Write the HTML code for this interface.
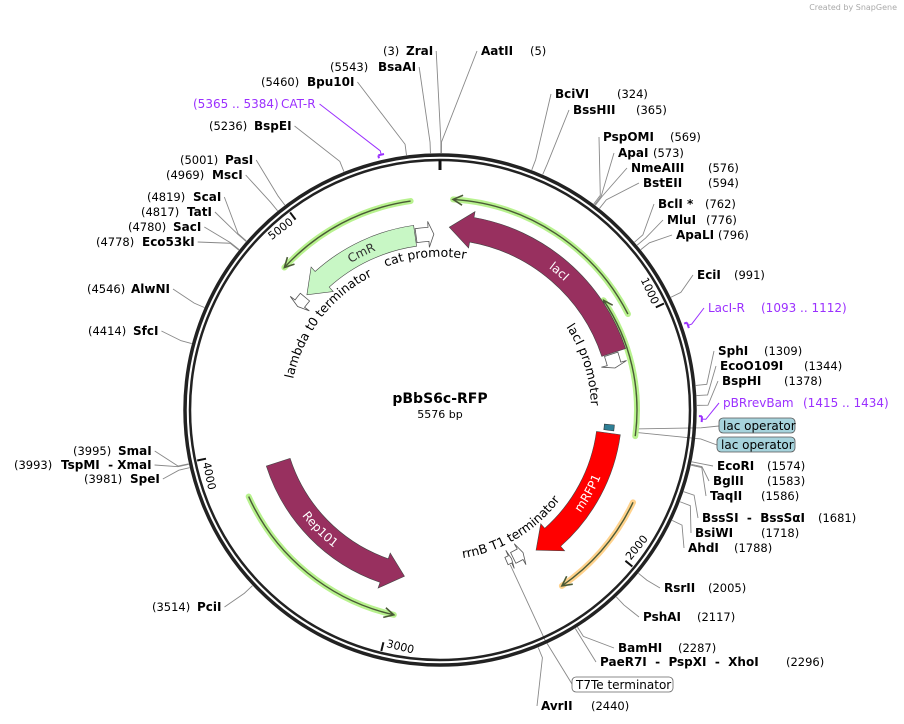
<!DOCTYPE html>
<html><head><meta charset="utf-8">
<style>
html,body{margin:0;padding:0;background:#fff;}
svg{display:block;font-family:"DejaVu Sans","Liberation Sans",sans-serif;}
text{white-space:pre;}
.nm{font-weight:bold;font-size:12px;fill:#000;}
.nu{font-size:11.5px;fill:#000;}
.pr{font-size:12px;fill:#9b30ff;}
</style></head>
<body>
<svg id="map" width="904" height="724" viewBox="0 0 904 724">
<defs id="defs"></defs>
<text x="897" y="10" text-anchor="end" font-size="8" fill="#aaa">Created by SnapGene</text>
<g id="lines"></g>
<g id="ring"></g>
<g id="feats"></g>
<g id="labels"></g>
<text x="440" y="403" text-anchor="middle" font-weight="bold" font-size="14">pBbS6c-RFP</text>
<text x="440" y="418" text-anchor="middle" font-size="11">5576 bp</text>
</svg>
<script>
const TOTAL = 5576;
const CX = 440, CY = 410;
const NS = 'http://www.w3.org/2000/svg';
const rightSites = [
 ['AatII','(5)',5,481,530,55],
 ['BciVI','(324)',324,555,617,98],
 ['BssHII','(365)',365,573,636,114],
 ['PspOMI','(569)',569,603,670,141],
 ['ApaI','(573)',573,618,653,157],
 ['NmeAIII','(576)',576,631,708,172],
 ['BstEII','(594)',594,643,708,187],
 ['BclI *','(762)',762,658,705,208],
 ['MluI','(776)',776,667,706,224],
 ['ApaLI','(796)',796,676,718,239],
 ['EciI','(991)',991,697,734,279],
 ['SphI','(1309)',1309,718,764,355],
 ['EcoO109I','(1344)',1344,720,804,370],
 ['BspHI','(1378)',1378,722,784,385],
 ['EcoRI','(1574)',1574,717,767,470],
 ['BglII','(1583)',1583,713,767,485],
 ['TaqII','(1586)',1586,710,761,500],
 ['BssSI  -  BssSαI','(1681)',1681,702,818,522],
 ['BsiWI','(1718)',1718,695,761,537],
 ['AhdI','(1788)',1788,688,734,552],
 ['RsrII','(2005)',2005,664,708,592],
 ['PshAI','(2117)',2117,643,697,621],
 ['BamHI','(2287)',2287,618,678,652],
 ['PaeR7I  -  PspXI  -  XhoI','(2296)',2296,600,786,666],
 ['AvrII','(2440)',2440,541,591,710]
];
const leftSites = [
 ['ZraI','(3)',3,406,383,55],
 ['BsaAI','(5543)',5543,378,330,71],
 ['Bpu10I','(5460)',5460,307,261,86],
 ['BspEI','(5236)',5236,254,209,130],
 ['PasI','(5001)',5001,225,180,164],
 ['MscI','(4969)',4969,212,166,179],
 ['ScaI','(4819)',4819,193,147,201],
 ['TatI','(4817)',4817,187,141,216],
 ['SacI','(4780)',4780,173,128,231],
 ['Eco53kI','(4778)',4778,142,96,246],
 ['AlwNI','(4546)',4546,131,87,293],
 ['SfcI','(4414)',4414,133,88,335],
 ['SmaI','(3995)',3995,118,73,455],
 ['TspMI  - XmaI','(3993)',3993,61,14,469],
 ['SpeI','(3981)',3981,130,84,483],
 ['PciI','(3514)',3514,197,152,611]
];
const primers = [
 ['CAT-R','(5365 .. 5384)',5375,281,193,108,'left'],
 ['LacI-R','(1093 .. 1112)',1102,708,761,312,'right'],
 ['pBRrevBam','(1415 .. 1434)',1425,723,803,407,'right']
];
const tickVals = [1000,2000,3000,4000,5000];
const features = [
 ['lacI',1110,45,183,25,'#98305f','lacI'],
 ['CmR',5450,4815,176,21,'#c8f7c5','CmR'],
 ['Rep101',3905,2975,170,25,'#98305f','Rep101'],
 ['mRFP1',1515,2255,170,24,'#ff0000','mRFP1']
];
const greenArcs = [
 [975,55,211,'#b8f28e'],
 [5452,4840,211,'#b8f28e'],
 [1512,870,197,'#b8f28e'],
 [1790,2250,214,'#ffd28c'],
 [3805,2985,210,'#b8f28e']
];

function ang(p){return p/TOTAL*2*Math.PI;}
function pt(p,r){const a=ang(p);return [CX+r*Math.sin(a),CY-r*Math.cos(a)];}
function el(tag,attrs,parent){const e=document.createElementNS(NS,tag);for(const k in attrs)e.setAttribute(k,attrs[k]);parent.appendChild(e);return e;}
function delta(a,b,dir){let d=(b-a)*dir;while(d<0)d+=TOTAL;return d;}
function arcD(p1,p2,r,dir){const d=delta(p1,p2,dir);const large=d>TOTAL/2?1:0;const e=pt(p2,r);
 return `A${r},${r} 0 ${large} ${dir>0?1:0} ${e[0].toFixed(1)},${e[1].toFixed(1)}`;}
const gL=document.getElementById('lines'),gR=document.getElementById('ring'),gF=document.getElementById('feats'),gT=document.getElementById('labels'),defs=document.getElementById('defs');
let pathId=0;
function curvedText(txt,center,r,size,fill,name,parent){
 const deg=((center%TOTAL)+TOTAL)%TOTAL/TOTAL*360;
 const top=(deg<90||deg>270);
 const span=1300;
 let d;
 if(top){d=`M${pt(center-span,r)} ${arcD(center-span,center+span,r,1)}`;}
 else{d=`M${pt(center+span,r)} ${arcD(center+span,center-span,r,-1)}`;}
 const id='tp'+(pathId++);
 el('path',{id:id,d:d,fill:'none'},defs);
 const t=el('text',{'font-size':size,fill:fill},parent);
 const tp=el('textPath',{href:'#'+id,startOffset:'50%','text-anchor':'middle'},t);
 tp.setAttributeNS('http://www.w3.org/1999/xlink','xlink:href','#'+id);
 tp.textContent=txt;
 
 
 return top;
}

let c1=el('circle',{cx:CX,cy:CY,r:255,fill:'none',stroke:'#222','stroke-width':3.5},gR);


let c2=el('circle',{cx:CX,cy:CY,r:250,fill:'none',stroke:'#222','stroke-width':2.5},gR);


let t0=el('line',{x1:CX,y1:CY-240,x2:CX,y2:CY-250,stroke:'#111','stroke-width':3},gR);


tickVals.forEach(v=>{
 const a=pt(v,248),b=pt(v,239);
 const tl=el('line',{x1:a[0],y1:a[1],x2:b[0],y2:b[1],stroke:'#111','stroke-width':2},gR);
 
 
 const deg=v/TOTAL*360;
 const top=(deg<90||deg>270);
 const rot=top?(deg>180?deg-360:deg):deg-180;
 const p=pt(v,240);
 const tx=el('text',{x:p[0],y:p[1],'font-size':11,'dominant-baseline':'middle','text-anchor':top?'end':'start',transform:`rotate(${rot.toFixed(1)} ${p[0].toFixed(1)} ${p[1].toFixed(1)})`},gR);
 tx.textContent=' '+v+' ';
 
 
});

greenArcs.forEach((g,i)=>{
 const [s,e,r,col]=g;const dir=delta(s,e,1)<TOTAL/2?1:-1;
 const p=pt(s,r);const d=`M${p[0]},${p[1]} `+arcD(s,e,r,dir);
 const h=el('path',{d:d,fill:'none',stroke:col,'stroke-width':6,'stroke-linecap':'round'},gF);
 
 
 const l=el('path',{d:d,fill:'none',stroke:'#4a5a36','stroke-width':1.4},gF);
 
 
 const hb=e-dir*40;const q1=pt(hb,r+5),q2=pt(hb,r-5),tip=pt(e,r);
 const ah=el('path',{d:`M${q1}L${tip}L${q2}`,fill:'none',stroke:'#4a5a36','stroke-width':1.6},gF);
 
 
});

function arrowShape(s,e,r,w){
 const dir=delta(s,e,1)<TOTAL/2?1:-1;
 const ro=r+w/2,ri=r-w/2;const hl=Math.min(110,delta(s,e,dir)*0.3);
 const hs=e-dir*hl;
 const A=pt(s,ro),C=pt(hs,ro+6),T=pt(e,r),D=pt(hs,ri-6),E=pt(hs,ri);
 return `M${A} ${arcD(s,hs,ro,dir)} L${C} L${T} L${D} L${E} ${arcD(hs,s,ri,-dir)} Z`;
}
features.forEach(f=>{
 const [n,s,e,r,w,col,lab]=f;
 const p=el('path',{d:arrowShape(s,e,r,w),fill:col,stroke:'#444','stroke-width':0.6},gF);
 
 
 const dir=delta(s,e,1)<TOTAL/2?1:-1;
 const mid=s+dir*delta(s,e,dir)*0.45;
 const deg=((mid%TOTAL)+TOTAL)%TOTAL/TOTAL*360;
 const top=(deg<90||deg>270);
 curvedText(lab,mid,top?r-4:r+4,12,n==='CmR'?'#333':'#fff','feature-label-'+n,gF);
});
const outlines=[['cat-promoter',5455,5545,176,14],['laci-promoter',1115,1185,180,14],['lambda-t0-terminator',4800,4740,176,12],['rrnb-t1-terminator',2380,2320,165,12],['t7te-terminator-mark',2420,2390,165,8]];
outlines.forEach(o=>{
 const p=el('path',{d:arrowShape(o[1],o[2],o[3],o[4]),fill:'#fff',stroke:'#555','stroke-width':0.8},gF);
 
 
});
const lo=el('path',{d:`M${pt(1470,175)} ${arcD(1470,1500,175,1)} L${pt(1500,165)} ${arcD(1500,1470,165,-1)}Z`,fill:'#2e7f96',stroke:'#333','stroke-width':0.6},gF);



curvedText('cat promoter',5490,153,12.5,'#000','cat-promoter-label',gF);
curvedText('lambda t0 terminator',4764,150,12.5,'#000','lambda-t0-terminator-label',gF);
curvedText('lacI promoter',1123,151,12.5,'#000','laci-promoter-label',gF);
curvedText('rrnB T1 terminator',2308,150,12.5,'#000','rrnb-t1-terminator-label',gF);

function siteLine(ax,ay,pos,col,name){
 const m=pt(pos,268),n=pt(pos,257);
 const l=el('polyline',{points:`${ax},${ay} ${m} ${n}`,fill:'none',stroke:col||'#888','stroke-width':0.9},gL);
 
 
}
rightSites.forEach(s=>{
 const [nm,num,pos,nx,ux,y]=s;
 const g=el('g',{},gT);
 
 
 const a=el('text',{x:nx,y:y,class:'nm'},g);a.textContent=nm;
 const b=el('text',{x:ux,y:y,class:'nu'},g);b.textContent=num;
 siteLine(nx-4,y-4,pos,null,'site-line-'+pos);
});
leftSites.forEach(s=>{
 const [nm,num,pos,nx,ux,y]=s;
 const g=el('g',{},gT);
 
 
 const b=el('text',{x:ux,y:y,class:'nu'},g);b.textContent=num;
 const a=el('text',{x:nx,y:y,class:'nm'},g);a.textContent=nm;
 const w=a.getComputedTextLength();
 siteLine(nx+w+3,y-4,pos,null,'site-line-'+pos);
});
primers.forEach(p=>{
 const [nm,num,pos,nx,ux,y,side]=p;
 const g=el('g',{},gT);
 
 
 const a=el('text',{x:nx,y:y,class:'pr'},g);a.textContent=nm;
 const b=el('text',{x:ux,y:y,class:'pr','font-size':11},g);b.textContent=num;
 const w=a.getComputedTextLength();
 const ax=side==='left'?nx+w+4:nx-4;
 const m=pt(pos,266),n=pt(pos,262);
 const l=el('polyline',{points:`${ax},${y-4} ${m} ${n}`,fill:'none',stroke:'#9b30ff','stroke-width':1},gL);
 
 
 const bb=el('path',{d:`M${pt(pos-10,262)} ${arcD(pos-10,pos+10,262,1)} M${pt(pos-10,262)} L${pt(pos-10,259)}`,fill:'none',stroke:'#9b30ff','stroke-width':2},gL);
 
 
});
function box(txt,x,y,w,fill,name,pos,r){
 const g=el('g',{},gT);
 
 
 el('rect',{x:x,y:y,width:w,height:15,rx:4,fill:fill,stroke:'#555','stroke-width':0.8},g);
 const t=el('text',{x:x+4,y:y+12,'font-size':12},g);t.textContent=txt;
 const m=pt(pos,r+6),n=pt(pos,r);
 const l=el('polyline',{points:`${x},${y+8} ${m[0]+60},${m[1]+(y+8-m[1])*0.5} ${n}`,fill:'none',stroke:'#888','stroke-width':0.9},gL);
 
 
}
box('lac operator',719,418,76,'#a6d3dc','lac-operator-label-1',1480,196);
box('lac operator',717,437,78,'#a6d3dc','lac-operator-label-2',1495,196);
const tg=el('g',{},gT);


el('rect',{x:572,y:677,width:101,height:15,rx:4,fill:'#fff',stroke:'#666','stroke-width':0.8},tg);
const tt=el('text',{x:576,y:689,'font-size':12},tg);tt.textContent='T7Te terminator';
const tl2=el('polyline',{points:`572,684 545,640 ${pt(2410,170)}`,fill:'none',stroke:'#888','stroke-width':0.9},gL);


</script>
</body></html>
